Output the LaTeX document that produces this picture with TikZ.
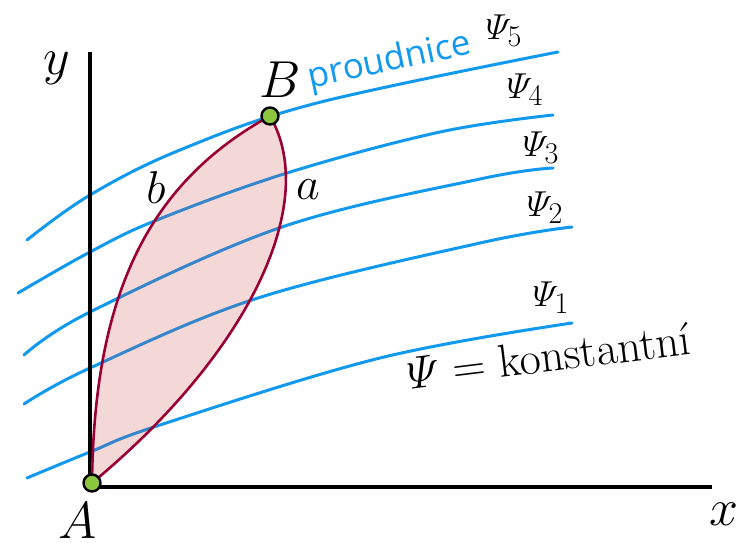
\documentclass[tikz,border=0pt]{standalone}
\usepackage{fontspec}
\newfontfamily\sansf{Open Sans}
\definecolor{streamblue}{HTML}{1199EE}
\definecolor{bndred}{HTML}{990033}
\definecolor{regfill}{HTML}{C83A3A}
\definecolor{ptgreen}{HTML}{8CC63F}
\begin{document}
\begin{tikzpicture}[x=1pt,y=1pt,
  stream/.style={draw=streamblue, line width=3pt, line cap=round},
  axisline/.style={draw=black, line width=3.2pt},
  ptnode/.style={circle, draw=black, line width=2.4pt, fill=ptgreen, minimum size=17pt, inner sep=0pt},
  boundary/.style={draw=bndred, line width=2.6pt},
  biglab/.style={inner sep=0pt, font=\Huge, scale=2.09},
  midlab/.style={inner sep=0pt, font=\Huge, scale=1.85},
  psilab/.style={inner sep=0pt, font=\Huge, scale=1.45},
]
\useasboundingbox (0,0) rectangle (750,542);

% streamlines
\draw[stream] plot[smooth, tension=0.6] coordinates {(27,302) (90,347) (180,392) (317,439) (558,490)};
\draw[stream] plot[smooth, tension=0.6] coordinates {(18,249) (90,290) (157,322) (287,369) (440,410) (553,427)};
\draw[stream] plot[smooth, tension=0.6] coordinates {(24,187) (90,230) (282,315) (480,363) (553,374)};
\draw[stream] plot[smooth, tension=0.6] coordinates {(24,138) (90,174) (258,244) (480,299) (572,315)};
\draw[stream] plot[smooth, tension=0.6] coordinates {(27,64) (90,90) (160,117) (380,184) (572,219)};

% axes
\coordinate (O) at (90,55);
\coordinate (Xe) at (712,55);
\coordinate (Ye) at (90,490);
\draw[axisline] (Ye) -- (O) -- (Xe);

% region
\coordinate (Ac) at (92,59);
\coordinate (Bc) at (270,426);
\path[fill=regfill, fill opacity=0.2] (Ac) .. controls (94,250) and (150,360) .. (Bc) .. controls (320,340) and (250,190) .. (Ac) -- cycle;
\draw[boundary] (Ac) .. controls (94,250) and (150,360) .. (Bc) .. controls (320,340) and (250,190) .. (Ac);

\node[ptnode] (A) at (Ac) {};
\node[ptnode] (B) at (Bc) {};

% labels
\node[biglab] (lA) at (78,21) {$A$};
\node[biglab] (lB) at (280,462) {$B$};
\node[biglab] (ly) at (57,474) {$y$};
\node[biglab] (lx) at (724,28) {$x$};
\node[midlab] (lb) at (156,354) {$b$};
\node[midlab] (la) at (308,352) {$a$};

\node[psilab] (p5) at (504,511) {$\mathnormal{\Psi}_5$};
\node[psilab] (p4) at (525,452) {$\mathnormal{\Psi}_4$};
\node[psilab] (p3) at (541,394) {$\mathnormal{\Psi}_3$};
\node[psilab] (p2) at (545,334) {$\mathnormal{\Psi}_2$};
\node[psilab] (p1) at (551,244) {$\mathnormal{\Psi}_1$};

\node[inner sep=0pt, rotate=12, text=streamblue, font=\sansf\fontsize{35}{40}\selectfont] (pr) at (390,480) {proudnice};
\node[inner sep=0pt, rotate=7, font=\Huge, scale=1.85] (kon) at (549,186) {$\mathnormal{\Psi} = \mbox{konstantní}$};
\end{tikzpicture}
\end{document}
